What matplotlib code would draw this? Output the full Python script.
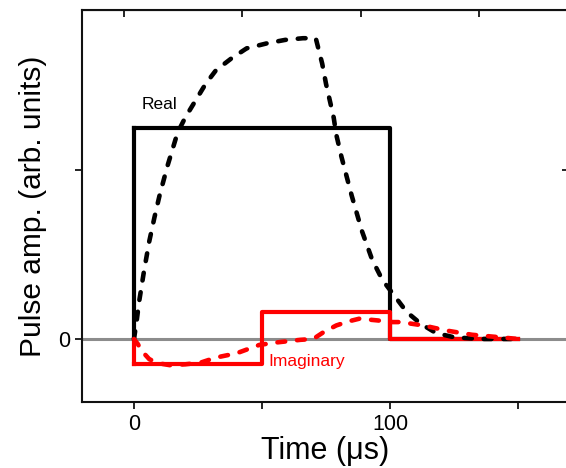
import matplotlib
matplotlib.use("Agg")
import matplotlib.pyplot as plt

plt.rcParams['font.family'] = ['Liberation Sans', 'DejaVu Sans']

# Square (ideal) pulses
step_t = [0, 50, 100, 150]
real_step = [1.25, 1.25, 0.0, 0.0]
imag_step = [-0.15, 0.16, 0.0, 0.0]

# Measured (dashed) pulses
real_t = [0, 1, 2, 4, 6, 8, 10, 13, 17, 20, 24, 28, 32, 38, 44, 52, 59, 66, 71,
          73.5, 75, 76.5, 78, 79, 81, 85, 89, 93, 97, 102, 106.5, 112, 118, 125, 135, 150]
real_y = [0, 0.1, 0.22, 0.41, 0.58, 0.72, 0.85, 1.02, 1.22, 1.31, 1.41, 1.51, 1.59, 1.66,
          1.72, 1.75, 1.77, 1.78, 1.78, 1.63, 1.51, 1.41, 1.31, 1.21, 1.08, 0.85, 0.64,
          0.47, 0.35, 0.25, 0.16, 0.09, 0.035, 0.01, 0.0, 0.0]
imag_t = [0, 1.5, 3, 6, 10, 14, 20, 26, 32, 40, 49, 56, 65, 70, 74, 79, 84, 88, 95,
          101, 104, 113, 122, 132, 143, 150]
imag_y = [0, -0.03, -0.07, -0.12, -0.145, -0.155, -0.15, -0.14, -0.11, -0.085, -0.035,
          -0.02, -0.005, 0.0, 0.04, 0.08, 0.105, 0.12, 0.11, 0.10, 0.10, 0.08, 0.05,
          0.025, 0.01, 0.0]

bottom_ticks = [0, 50, 100, 150]
bottom_labels = ['0', '', '100', '']
top_ticks = [-3.9, 42.2, 88.7, 134.8]
y_ticks = [0, 1]
y_labels = ['0', '']

fig = plt.figure(figsize=(5.66, 4.68), dpi=100)
ax = fig.add_axes([82/566, 1-402/468, (568.5-82)/566, (402-10)/468])

solid_lw = 3.0
dash_lw = 3.3
dash_style = (0, (1.7, 2.6))

ax.axhline(0, color='#8c8c8c', lw=2.2, zorder=1)
ax.step(step_t, real_step, where='post', color='black', lw=solid_lw, zorder=2)
ax.plot([0, 0], [0, real_step[0]], color='black', lw=solid_lw, zorder=2)
ax.step(step_t, imag_step, where='post', color='#ff0000', lw=solid_lw, zorder=3)
ax.plot([0, 0], [0, imag_step[0]], color='#ff0000', lw=solid_lw, zorder=3)
ax.plot(real_t, real_y, color='black', lw=dash_lw, ls=dash_style, dash_capstyle='round', zorder=4)
ax.plot(imag_t, imag_y, color='#ff0000', lw=dash_lw, ls=dash_style, dash_capstyle='round', zorder=5)

ax.text(3, 1.385, 'Real', fontsize=12.5, color='black', ha='left', va='center')
ax.text(52.5, -0.135, 'Imaginary', fontsize=12.5, color='#ff0000', ha='left', va='center')

ax.set_xlim(-20.3, 169.7)
ax.set_ylim(-0.373, 1.947)

ax.set_xticks(bottom_ticks)
ax.set_xticklabels(bottom_labels)
ax.set_yticks(y_ticks)
ax.set_yticklabels(y_labels)
ax.tick_params(direction='out', length=5, width=1.2, labelsize=15.5, colors='black')

for s in ax.spines.values():
    s.set_linewidth(1.5)
    s.set_color('#111111')

sec_top = ax.secondary_xaxis('top')
sec_top.set_xticks(top_ticks)
sec_top.set_xticklabels([''] * len(top_ticks))
sec_top.tick_params(direction='in', length=5, width=1.2)
sec_right = ax.secondary_yaxis('right')
sec_right.set_yticks(y_ticks)
sec_right.set_yticklabels([''] * len(y_ticks))
sec_right.tick_params(direction='in', length=5, width=1.2)

ax.set_xlabel('Time (μs)', fontsize=22, labelpad=1)
ax.set_ylabel('Pulse amp. (arb. units)', fontsize=21.5, labelpad=8)

fig.savefig('out.png', dpi=100)
